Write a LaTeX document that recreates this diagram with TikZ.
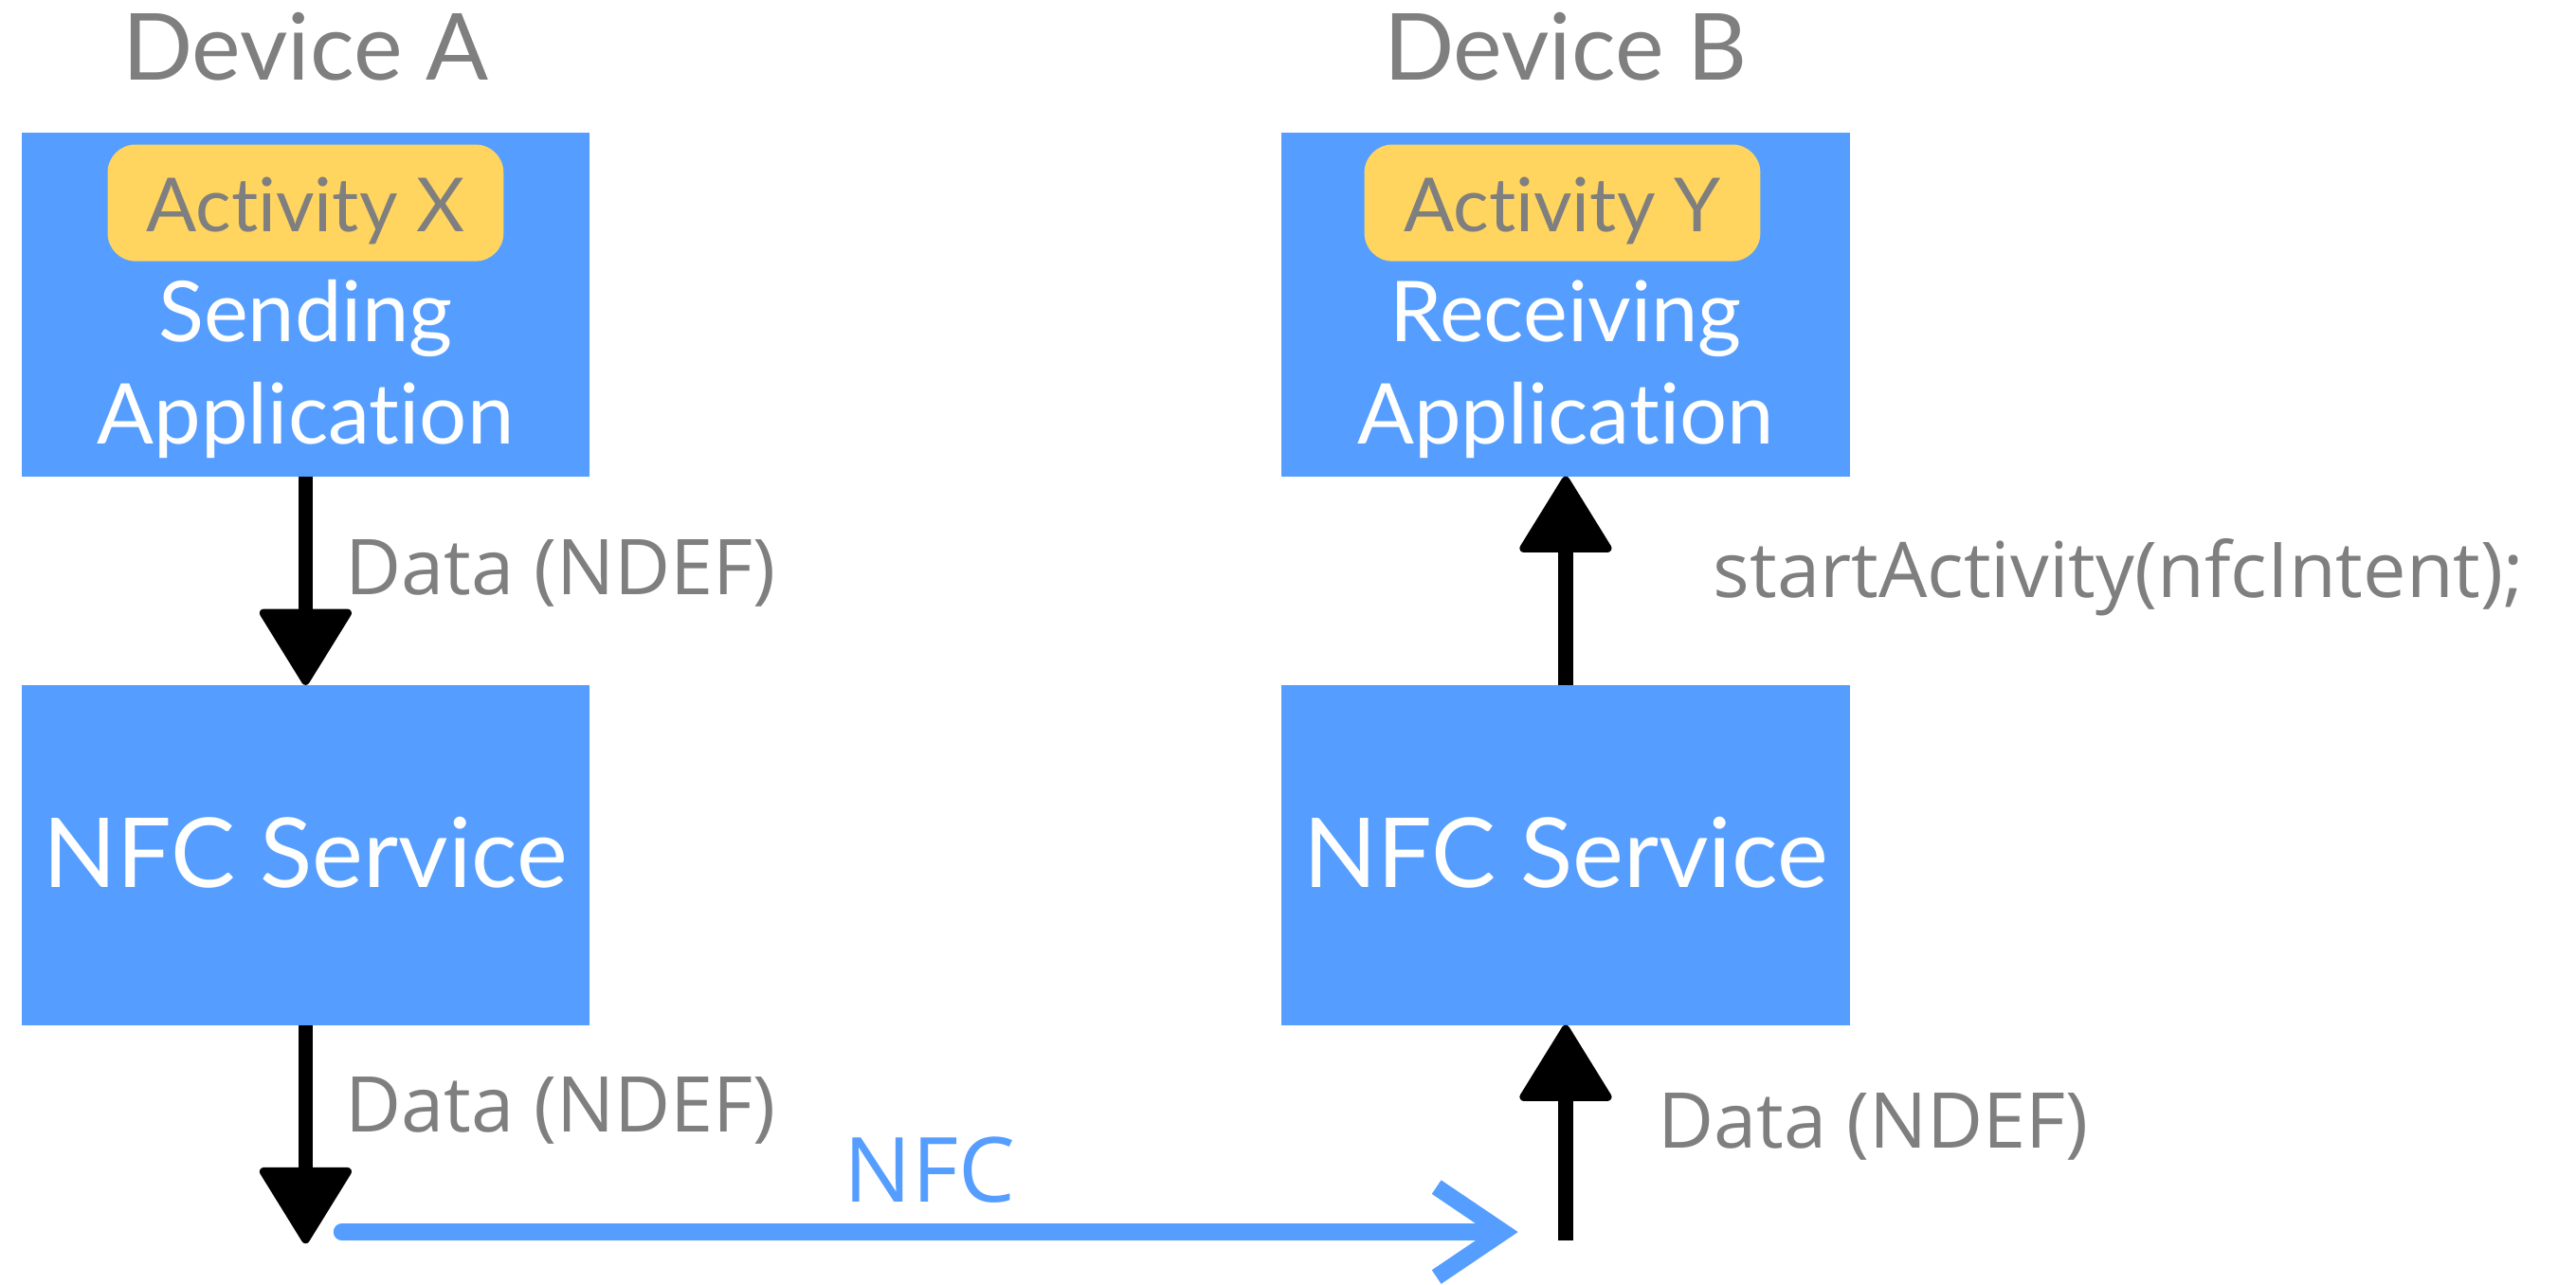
\documentclass[tikz,border=0pt]{standalone}
\usepackage{fontspec}
\setmainfont{Lato}[Ligatures={NoCommon}]
\newfontfamily\labelfont{Open Sans}
\usetikzlibrary{arrows.meta}
\definecolor{boxblue}{HTML}{559EFF}
\definecolor{pillyellow}{HTML}{FFD45F}
\definecolor{textgray}{HTML}{7F7F7F}
\def\pxu{0.017334cm}

\begin{document}
\begin{tikzpicture}[x=\pxu, y=-\pxu,
  every node/.style={inner sep=0pt, outer sep=0pt},
  box/.style={fill=boxblue, draw=none, minimum width=346*\pxu},
  pill/.style={fill=pillyellow, rounded corners=17*\pxu, minimum width=241*\pxu, minimum height=71*\pxu},
  devtitle/.style={text=textgray, font=\fontsize{27.8pt}{32pt}\selectfont},
  pilltext/.style={text=textgray, font=\fontsize{22.4pt}{27pt}\selectfont},
  boxtext/.style={text=white, align=center, font=\fontsize{25.2pt}{31pt}\selectfont},
  svctext/.style={text=white, font=\fontsize{29pt}{32pt}\selectfont},
  lbl/.style={text=textgray, font=\labelfont\fontsize{23.1pt}{27pt}\selectfont},
  nfclabel/.style={text=boxblue, font=\labelfont\fontsize{27pt}{32pt}\selectfont},
  flow/.style={draw=black, line width=4.5pt,
    -{Triangle[length=24pt,width=29pt,round,line width=2.5pt]}},
  nfcarrow/.style={draw=boxblue, line width=5pt, line cap=round,
    -{Straight Barb[length=20pt,width=27pt,line width=5pt]}}
]
\useasboundingbox (0,0) rectangle (1568,781.7);

% device titles
\node[devtitle, anchor=base] (devA) at (186,49) {Device A};
\node[devtitle, anchor=base] (devB) at (953,49) {Device B};

% application boxes
\node[box, minimum height=209*\pxu] (appA) at (186,185.5) {};
\node[box, minimum height=209*\pxu] (appB) at (953,185.5) {};
\node[pill] (actX) at (186,123.5) {};
\node[pill] (actY) at (951,123.5) {};
\node[pilltext, anchor=base] (actXt) at (186,141) {Activity X};
\node[pilltext, anchor=base] (actYt) at (951,141) {Activity Y};
\node[boxtext, anchor=base] (sendT) at (186,207.7) {Sending};
\node[boxtext, anchor=base] (sendA) at (186,270) {Application};
\node[boxtext, anchor=base] (recvT) at (953,207.7) {Receiving};
\node[boxtext, anchor=base] (recvA) at (953,270) {Application};

% NFC service boxes
\node[box, minimum height=207*\pxu] (svcA) at (186,520.5) {};
\node[box, minimum height=207*\pxu] (svcB) at (953,520.5) {};
\node[svctext, anchor=base] (svcAt) at (186,540) {NFC Service};
\node[svctext, anchor=base] (svcBt) at (953,540) {NFC Service};

% free ends of the outer arrows
\coordinate (outA) at (186,757);
\coordinate (inB) at (953,755);
\coordinate (nfcS) at (208,750);
\coordinate (nfcE) at (924,750);

% data flow
\draw[flow] (appA.south) -- (svcA.north);
\draw[flow] (svcA.south) -- (outA);
\draw[flow] (inB) -- (svcB.south);
\draw[flow] (svcB.north) -- (appB.south);

% NFC link between the devices
\draw[nfcarrow] (nfcS) -- (nfcE);

% labels
\node[lbl, anchor=base west] (lblA1) at (210,362) {Data (NDEF)};
\node[lbl, anchor=base west] (lblA2) at (210,689) {Data (NDEF)};
\node[lbl, anchor=base west] (lblB2) at (1009,699) {Data (NDEF)};
\node[lbl, anchor=base west] (lblB1) at (1043,364) {startActivity(nfcIntent);};
\node[nfclabel, anchor=base] (nfcL) at (566,731.5) {NFC};
\end{tikzpicture}
\end{document}
